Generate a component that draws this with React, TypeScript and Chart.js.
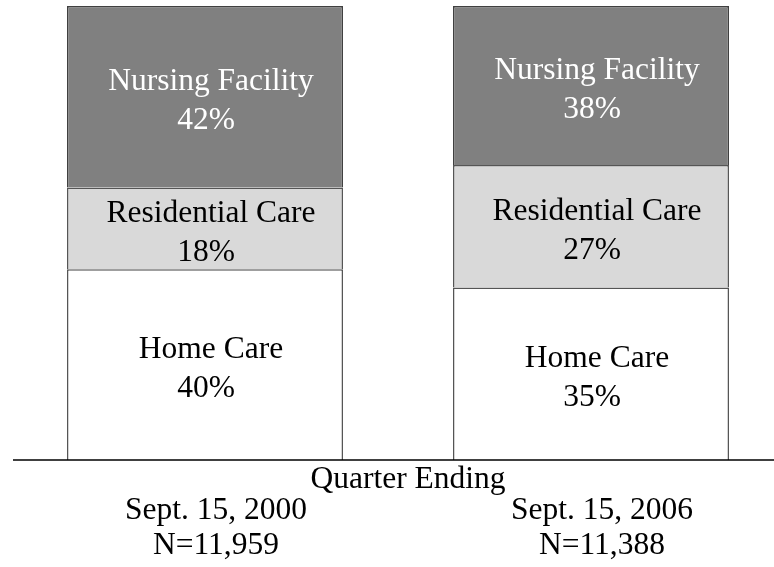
import React, { useEffect, useRef } from 'react';
import { Chart, registerables } from 'chart.js';

Chart.register(...registerables);

// ---- data ----
const categories = ['Sept. 15, 2000', 'Sept. 15, 2006'];
const sampleSizes = ['N=11,959', 'N=11,388'];
const axisTitle = 'Quarter Ending';

const segmentNames = ['Home Care', 'Residential Care', 'Nursing Facility'];
// segment heights as drawn (percent of bar)
const homeCare = [42, 38];
const residentialCare = [18, 27];
const nursingFacility = [40, 35];
// percent labels as printed in the segments
const homeCareLabels = ['40%', '35%'];
const residentialCareLabels = ['18%', '27%'];
const nursingFacilityLabels = ['42%', '38%'];

const FONT_FAMILY = '"Liberation Serif", "Times New Roman", Times, serif';
const FONT_SIZE = 31.5;

const segmentLabelPlugin = {
  id: 'segmentLabels',
  afterDatasetsDraw(chart: any) {
    const ctx = chart.ctx;
    ctx.save();
    ctx.font = `${FONT_SIZE}px ${FONT_FAMILY}`;
    ctx.textAlign = 'center';
    ctx.textBaseline = 'alphabetic';
    chart.data.datasets.forEach((ds: any, di: number) => {
      const meta = chart.getDatasetMeta(di);
      meta.data.forEach((bar: any, i: number) => {
        const { x, y, base } = bar.getProps(['x', 'y', 'base'], true);
        const cy = (y + base) / 2;
        ctx.fillStyle = ds.textColor;
        ctx.fillText(ds.label, x + 6, cy - 6.5);
        ctx.fillText(ds.percentLabels[i], x + 1, cy + 32.5);
      });
    });
    ctx.restore();
  },
};

const baselinePlugin = {
  id: 'baselineAndTitle',
  afterDraw(chart: any) {
    const ctx = chart.ctx;
    const area = chart.chartArea;
    const xs = chart.scales.x;
    ctx.save();
    ctx.strokeStyle = '#000000';
    ctx.lineWidth = 1.5;
    ctx.beginPath();
    ctx.moveTo(13, area.bottom);
    ctx.lineTo(chart.width, area.bottom);
    ctx.stroke();

    const mid = (xs.getPixelForValue(0) + xs.getPixelForValue(1)) / 2;
    ctx.font = `${FONT_SIZE}px ${FONT_FAMILY}`;
    ctx.fillStyle = '#000000';
    ctx.textAlign = 'center';
    ctx.textBaseline = 'alphabetic';
    ctx.fillText(axisTitle, mid + 10, area.bottom + 28);
    ctx.restore();
  },
};

export default function App() {
  const canvasRef = useRef<HTMLCanvasElement | null>(null);

  useEffect(() => {
    if (!canvasRef.current) return;
    const borderWidth = { top: 1.5, left: 1.5, right: 1.5, bottom: 0 };
    const chart = new Chart(canvasRef.current, {
      type: 'bar',
      data: {
        labels: categories.map((c, i) => [c, sampleSizes[i]]),
        datasets: [
          {
            label: segmentNames[0],
            data: homeCare,
            backgroundColor: '#ffffff',
            borderColor: '#555555',
            borderWidth,
            borderSkipped: false,
            textColor: '#000000',
            percentLabels: homeCareLabels,
          } as any,
          {
            label: segmentNames[1],
            data: residentialCare,
            backgroundColor: '#d9d9d9',
            borderColor: '#555555',
            borderWidth,
            borderSkipped: false,
            textColor: '#000000',
            percentLabels: residentialCareLabels,
          } as any,
          {
            label: segmentNames[2],
            data: nursingFacility,
            backgroundColor: '#808080',
            borderColor: '#404040',
            borderWidth,
            borderSkipped: false,
            textColor: '#ffffff',
            percentLabels: nursingFacilityLabels,
          } as any,
        ],
      },
      options: {
        responsive: false,
        animation: false,
        layout: { padding: { left: 205, right: 183, top: 6, bottom: 0 } },
        datasets: {
          bar: { categoryPercentage: 1, barPercentage: 0.715, clip: false } as any,
        },
        plugins: {
          legend: { display: false },
          tooltip: { enabled: false },
          title: { display: false },
        },
        scales: {
          x: {
            stacked: true,
            offset: false,
            grid: { display: false, drawTicks: false },
            border: { display: false },
            ticks: {
              color: '#000000',
              padding: 33.5,
              labelOffset: 11,
              maxRotation: 0,
              autoSkip: false,
              font: { family: FONT_FAMILY, size: FONT_SIZE, lineHeight: 1.111 },
            },
            afterFit: (scale: any) => {
              scale.height = 107;
            },
          },
          y: {
            stacked: true,
            display: false,
            min: 0,
            max: 100,
          },
        },
      },
      plugins: [segmentLabelPlugin, baselinePlugin],
    });
    return () => chart.destroy();
  }, []);

  return (
    <div style={{ position: 'absolute', left: 0, top: 0, width: 774, height: 567, background: '#ffffff' }}>
      <canvas ref={canvasRef} width={774} height={567} style={{ display: 'block' }} />
    </div>
  );
}
